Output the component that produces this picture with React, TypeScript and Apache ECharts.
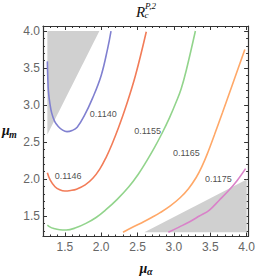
import React, { useEffect, useRef } from 'react';
import * as echarts from 'echarts';

// ---- data ----
const xMajorTicks = [1.5, 2.0, 2.5, 3.0, 3.5, 4.0];
const yMajorTicks = [1.5, 2.0, 2.5, 3.0, 3.5, 4.0];
const minorTicks = [1.3, 1.4, 1.6, 1.7, 1.8, 1.9, 2.1, 2.2, 2.3, 2.4, 2.6, 2.7, 2.8, 2.9, 3.1, 3.2, 3.3, 3.4, 3.6, 3.7, 3.8, 3.9];

const contourLevels = ['0.1140', '0.1146', '0.1155', '0.1165', '0.1175'];

const contour1140 = [
  [1.26, 3.59], [1.265, 3.4], [1.275, 3.18], [1.295, 3.02], [1.32, 2.89], [1.36, 2.78], [1.41, 2.71],
  [1.47, 2.66], [1.53, 2.64], [1.6, 2.655], [1.67, 2.7], [1.77, 2.86], [1.88, 3.09], [2.0, 3.4],
  [2.09, 3.77], [2.135, 4.0],
];
const contour1146 = [
  [1.26, 2.085], [1.3, 1.985], [1.365, 1.895], [1.43, 1.855], [1.5, 1.838], [1.58, 1.845], [1.66, 1.862],
  [1.78, 1.92], [1.885, 2.01], [1.98, 2.134], [2.065, 2.287], [2.15, 2.474], [2.24, 2.699], [2.34, 2.979],
  [2.47, 3.395], [2.62, 3.99],
];
const contour1155 = [
  [1.26, 1.378], [1.3, 1.35], [1.34, 1.334], [1.43, 1.315], [1.52, 1.311], [1.65, 1.34], [1.79, 1.4],
  [1.93, 1.48], [2.065, 1.585], [2.22, 1.725], [2.38, 1.895], [2.51, 2.065], [2.62, 2.235], [2.73, 2.42],
  [2.835, 2.615], [2.94, 2.83], [3.035, 3.05], [3.1, 3.22], [3.17, 3.47], [3.295, 4.0],
];
const contour1165 = [
  [2.3, 1.28], [2.45, 1.357], [2.584, 1.422], [2.7, 1.483], [2.81, 1.545], [2.95, 1.637], [3.081, 1.743],
  [3.2, 1.87], [3.306, 2.02], [3.39, 2.18], [3.465, 2.355], [3.556, 2.595], [3.668, 2.9], [3.8, 3.265],
  [3.975, 3.75],
];
const contour1175 = [
  [2.923, 1.28], [3.07, 1.35], [3.217, 1.423], [3.35, 1.5], [3.488, 1.581], [3.62, 1.71], [3.759, 1.851],
  [3.87, 1.98], [3.985, 2.14],
];
const contourLines = [contour1140, contour1146, contour1155, contour1165, contour1175];
const contourColors = ['#8080d0', '#f27c58', '#92d48c', '#ffa868', '#d982c9'];

const labelPositions = [
  [2.028, 2.878], [1.545, 2.047], [2.638, 2.655], [3.171, 2.347], [3.611, 1.996],
];

const shadedTopLeft = [[1.26, 4.0], [1.975, 4.0], [1.26, 2.6]];
const shadedBottomRight = [[2.594, 1.28], [4.0, 1.995], [4.0, 1.28]];
const shadedRegions = [shadedTopLeft, shadedBottomRight];

// ---- styling ----
const frameColor = '#333333';
const tickLabelColor = '#666666';

function makeAxis(kind: 'x' | 'y', position: string, ticks: number[], len: number, showLine: boolean, showLabels: boolean) {
  const isX = kind === 'x';
  return {
    type: 'value',
    position,
    min: isX ? 1.2 : 1.223,
    max: isX ? 4.02 : 4.068,
    axisLine: { show: showLine, onZero: false, lineStyle: { color: frameColor, width: 1.2 } },
    axisTick: { show: true, inside: true, length: len, customValues: ticks, lineStyle: { color: frameColor, width: 1 } },
    axisLabel: {
      show: showLabels,
      customValues: ticks,
      formatter: (v: number) => v.toFixed(1),
      color: tickLabelColor,
      fontSize: 12,
      fontFamily: 'Liberation Sans, Arial, sans-serif',
      margin: isX ? 4 : 3,
    },
    splitLine: { show: false },
    minorTick: { show: false },
  };
}

export default function App() {
  const ref = useRef<HTMLDivElement>(null);
  useEffect(() => {
    if (!ref.current) return;
    const chart = echarts.init(ref.current, null, { renderer: 'svg' });
    const serif = '"Liberation Serif", "Times New Roman", serif';
    const option: any = {
      animation: false,
      backgroundColor: '#ffffff',
      grid: { left: 43, top: 26, width: 208, height: 210.5, containLabel: false },
      xAxis: [
        makeAxis('x', 'bottom', xMajorTicks, 4, true, true),
        makeAxis('x', 'bottom', minorTicks, 2, false, false),
        makeAxis('x', 'top', xMajorTicks, 4, true, false),
        makeAxis('x', 'top', minorTicks, 2, false, false),
      ],
      yAxis: [
        makeAxis('y', 'left', yMajorTicks, 4, true, true),
        makeAxis('y', 'left', minorTicks, 2, false, false),
        makeAxis('y', 'right', yMajorTicks, 4, true, false),
        makeAxis('y', 'right', minorTicks, 2, false, false),
      ],
      series: [
        {
          type: 'custom',
          xAxisIndex: 0,
          yAxisIndex: 0,
          clip: true,
          z: 1,
          data: shadedRegions.map((p) => [p[0][0], p[0][1]]),
          encode: { x: 0, y: 1 },
          renderItem: (params: any, api: any) => {
            const poly = shadedRegions[params.dataIndex];
            return {
              type: 'polygon',
              shape: { points: poly.map((pt) => api.coord(pt)) },
              style: { fill: '#d0d0d0', stroke: 'none' },
            };
          },
        },
        ...contourLines.map((line, i) => ({
          type: 'line',
          name: contourLevels[i],
          xAxisIndex: 0,
          yAxisIndex: 0,
          data: line,
          smooth: 0.4,
          showSymbol: false,
          symbol: 'none',
          clip: true,
          z: 3,
          lineStyle: { color: contourColors[i], width: 1.6 },
        })),
        {
          type: 'scatter',
          xAxisIndex: 0,
          yAxisIndex: 0,
          symbolSize: 0,
          z: 4,
          data: labelPositions.map((p, i) => [p[0], p[1], contourLevels[i]]),
          label: {
            show: true,
            position: 'inside',
            formatter: (p: any) => p.value[2],
            fontSize: 9,
            fontFamily: 'Liberation Sans, Arial, sans-serif',
            color: '#1a1a1a',
          },
        },
      ],
      graphic: [
        { type: 'text', x: 136, y: 12, style: { text: 'R', font: `italic 15px ${serif}`, fill: '#111', verticalAlign: 'middle', align: 'left' } },
        { type: 'text', x: 145, y: 5.5, style: { text: 'P,2', font: `italic 9px ${serif}`, fill: '#111', verticalAlign: 'middle', align: 'left' } },
        { type: 'text', x: 144.5, y: 14.8, style: { text: 'c', font: `italic 9px ${serif}`, fill: '#111', verticalAlign: 'middle', align: 'left' } },
        { type: 'text', x: 2, y: 130, style: { text: 'μ', font: `italic bold 14px ${serif}`, fill: '#111', verticalAlign: 'middle', align: 'left' } },
        { type: 'text', x: 9, y: 134, style: { text: 'm', font: `italic bold 10px ${serif}`, fill: '#111', verticalAlign: 'middle', align: 'left' } },
        { type: 'text', x: 139.5, y: 268, style: { text: 'μ', font: `italic bold 14px ${serif}`, fill: '#111', verticalAlign: 'middle', align: 'left' } },
        { type: 'text', x: 147, y: 271.5, style: { text: 'α', font: `italic bold 10px ${serif}`, fill: '#111', verticalAlign: 'middle', align: 'left' } },
      ],
    };
    chart.setOption(option);
    return () => chart.dispose();
  }, []);
  return <div ref={ref} style={{ position: 'absolute', left: 0, top: 0, width: 258, height: 277 }} />;
}
